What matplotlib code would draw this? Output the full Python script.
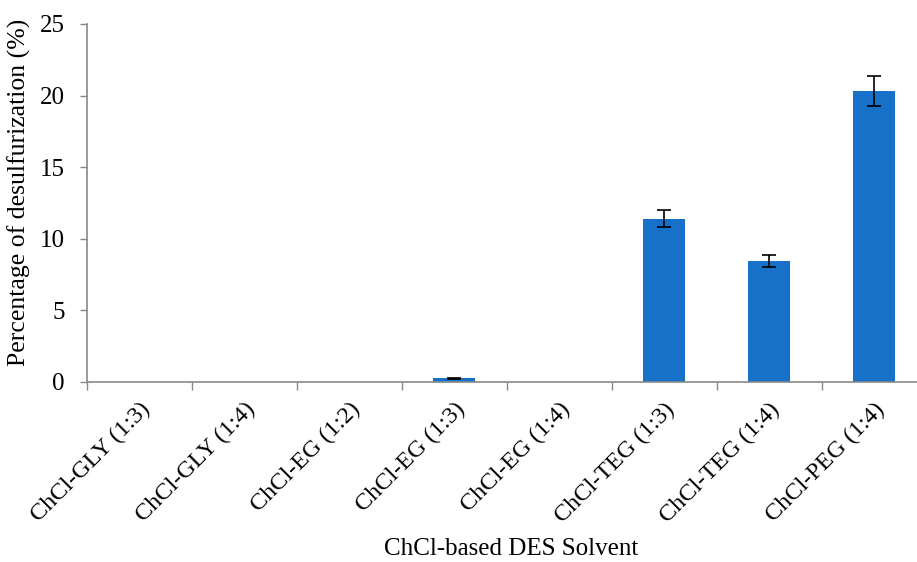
import matplotlib
matplotlib.use("Agg")
import matplotlib.pyplot as plt
import numpy as np

categories = ["ChCl-GLY (1:3)", "ChCl-GLY (1:4)", "ChCl-EG (1:2)", "ChCl-EG (1:3)",
              "ChCl-EG (1:4)", "ChCl-TEG (1:3)", "ChCl-TEG (1:4)", "ChCl-PEG (1:4)"]
values = [0, 0, 0, 0.25, 0, 11.4, 8.45, 20.3]
errors = [0, 0, 0, 0.05, 0, 0.6, 0.45, 1.05]

plt.rcParams['font.family'] = ['Liberation Serif', 'DejaVu Serif']

fig = plt.figure(figsize=(9.17, 5.62), dpi=100)
ax = fig.add_axes([87/917, 1-382/562, 840/917, (382-24)/562])

x = np.arange(len(categories))
errs = [e if e > 0 else np.nan for e in errors]
ax.bar(x, values, width=0.4, color='#1771C8', zorder=2)
ax.errorbar(x, values, yerr=errs, fmt='none', ecolor='black', elinewidth=1.2,
            capsize=5, capthick=1.2, zorder=3)

ax.set_xlim(-0.5, len(categories) - 0.5)
ax.set_ylim(0, 25)
ax.set_yticks([0, 5, 10, 15, 20, 25])

ax.set_xticks(x)
ax.set_xticklabels(categories, rotation=45, ha='right', va='top', rotation_mode='anchor', fontsize=17.5)
ax.tick_params(axis='x', which='major', length=0, pad=12)
ax.set_xticks(np.arange(-0.5, len(categories) + 0.5, 1), minor=True)
ax.tick_params(axis='x', which='minor', length=6, color='#898989', width=1)
ax.tick_params(axis='y', labelsize=18, length=5, color='#898989', width=1, pad=11)

for s in ['top', 'right']:
    ax.spines[s].set_visible(False)
for s in ['left', 'bottom']:
    ax.spines[s].set_color('#898989')
    ax.spines[s].set_linewidth(1.2)

ax.set_ylabel("Percentage of desulfurization (%)", fontsize=18.5)
ax.yaxis.set_label_coords(-56/840, 0.53)
ax.set_xlabel("ChCl-based DES Solvent", fontsize=18)
ax.xaxis.set_label_coords((511-87)/840, -(538-382)/358)

fig.savefig("out.png", dpi=100)
